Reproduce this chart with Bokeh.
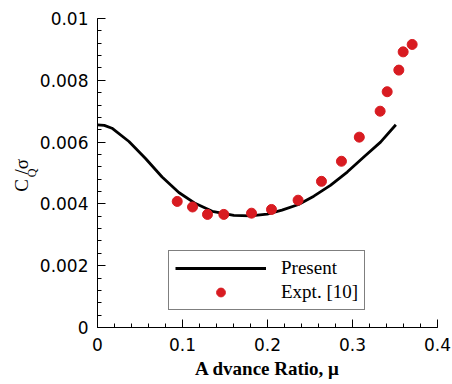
from bokeh.plotting import figure
from bokeh.models import Range1d, FixedTicker, Legend, LegendItem, LinearAxis
from bokeh.embed import file_html
from bokeh.resources import INLINE

# ---- data ----
present_mu = [0.0, 0.008, 0.017, 0.037, 0.0565, 0.076, 0.0957, 0.1153, 0.135,
              0.1604, 0.18, 0.1996, 0.217, 0.2365, 0.2545, 0.274, 0.2938,
              0.3133, 0.333, 0.351]
present_cq = [0.00656, 0.00654, 0.00645, 0.00602, 0.00547, 0.00487, 0.00437,
              0.00401, 0.00376, 0.00363, 0.00361, 0.00367, 0.00380, 0.00398,
              0.00425, 0.00460, 0.00503, 0.00552, 0.00600, 0.00656]

expt_mu = [0.0938, 0.1118, 0.1294, 0.1486, 0.1812, 0.2047, 0.2360, 0.2635,
           0.2870, 0.3080, 0.3325, 0.3408, 0.3545, 0.3596, 0.3702]
expt_cq = [0.00408, 0.00390, 0.00366, 0.00366, 0.00370, 0.00382, 0.00412,
           0.00473, 0.00538, 0.00616, 0.00700, 0.00763, 0.00833, 0.00892,
           0.00916]

xticks = [0.0, 0.1, 0.2, 0.3, 0.4]
xtick_labels = ["0", "0.1", "0.2", "0.3", "0.4"]
yticks = [0.0, 0.002, 0.004, 0.006, 0.008, 0.01]
ytick_labels = ["0", "0.002", "0.004", "0.006", "0.008", "0.01"]
xminor = [i * 0.02 for i in range(21)]
yminor = [i * 0.0004 for i in range(26)]

p = figure(width=452, height=384, output_backend="svg", toolbar_location=None,
           x_range=Range1d(0, 0.4), y_range=Range1d(0, 0.01),
           min_border_left=97, min_border_right=15, min_border_top=18,
           min_border_bottom=57)
p.outline_line_color = None
p.grid.visible = False
p.background_fill_color = "white"
p.border_fill_color = "white"

line_r = p.line(present_mu, present_cq, line_color="black", line_width=2.8)
dots_r = p.scatter(expt_mu, expt_cq, size=10, fill_color="#d81b21",
                   line_color="#d81b21")

tick_font = "DejaVu Sans"
for ax, ticks, labels, minor in ((p.xaxis[0], xticks, xtick_labels, xminor),
                                 (p.yaxis[0], yticks, ytick_labels, yminor)):
    ax.ticker = FixedTicker(ticks=ticks, minor_ticks=minor)
    ax.major_label_overrides = {t: l for t, l in zip(ticks, labels)}
    ax.major_tick_in = 8
    ax.major_tick_out = 0
    ax.minor_tick_in = 4
    ax.minor_tick_out = 0
    ax.axis_line_color = "black"
    ax.major_tick_line_color = "black"
    ax.minor_tick_line_color = "black"
    ax.major_label_text_font = tick_font
    ax.major_label_text_font_size = "17px"
    ax.major_label_text_color = "black"

p.yaxis[0].major_label_standoff = 9
p.xaxis[0].major_label_standoff = 10
p.xaxis[0].axis_label = "A dvance Ratio, \u03bc"
p.xaxis[0].axis_label_text_font = "Liberation Serif"
p.xaxis[0].axis_label_text_font_style = "bold"
p.xaxis[0].axis_label_text_font_size = "19px"
p.xaxis[0].axis_label_text_color = "black"
p.xaxis[0].axis_label_standoff = 4

# y axis label  C_Q / sigma : subscript "Q" on the main axis,
# "C  /σ" on an outer, otherwise invisible axis that overlaps it
lab_font = "Liberation Serif"
yax = p.yaxis[0]
yax.axis_label = "Q"
yax.axis_label_text_font = lab_font
yax.axis_label_text_font_style = "normal"
yax.axis_label_text_font_size = "12px"
yax.axis_label_text_color = "black"
yax.axis_label_standoff = -2

outer = LinearAxis(ticker=FixedTicker(ticks=[]), axis_label="C  /\u03c3")
outer.axis_line_color = None
outer.major_tick_line_color = None
outer.minor_tick_line_color = None
outer.major_label_text_font_size = "0px"
outer.major_tick_in = 0
outer.major_tick_out = 0
outer.minor_tick_in = 0
outer.minor_tick_out = 0
outer.axis_label_text_font = lab_font
outer.axis_label_text_font_style = "normal"
outer.axis_label_text_font_size = "19px"
outer.axis_label_text_color = "black"
outer.axis_label_standoff = -10
p.add_layout(outer, "left")

legend = Legend(items=[LegendItem(label="Present", renderers=[line_r]),
                       LegendItem(label="Expt. [10]", renderers=[dots_r])],
                location=(71, 17))
legend.border_line_color = "black"
legend.border_line_width = 1
legend.background_fill_color = "white"
legend.background_fill_alpha = 1.0
legend.label_text_font = "Liberation Serif"
legend.label_text_font_size = "19px"
legend.label_text_color = "black"
legend.glyph_width = 91
legend.glyph_height = 22
legend.label_height = 22
legend.label_standoff = 15
legend.padding = 6
legend.spacing = 2
legend.margin = 0
p.add_layout(legend, "center")

open("out.html", "w").write(file_html(p, INLINE))
